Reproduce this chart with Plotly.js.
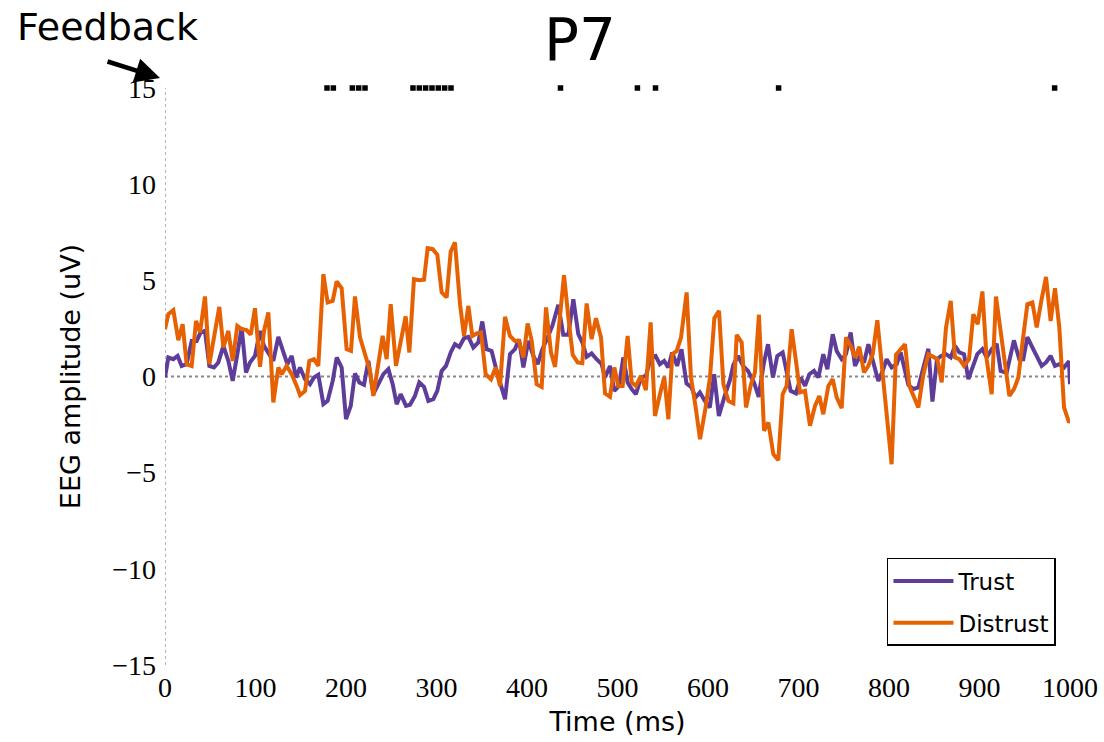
<!DOCTYPE html>
<html>
<head>
<meta charset="utf-8">
<script src="https://cdn.plot.ly/plotly-3.0.1.min.js"></script>
<style>html,body{margin:0;padding:0;background:#fff;}#chart{width:1104px;height:742px;}</style>
</head>
<body>
<div id="chart"></div>
<script>
// ---- Data ----
const trustT = [0,3.7,9.2,14,18.4,23.9,29.5,35,39.4,44.2,49,54.1,58.9,64.5,70,74.8,79.9,84.7,89.5,93.9,99.4,105,109.4,114.2,119.7,125.2,130.8,135.2,140,144.8,149.2,154.7,160.2,164.6,169.4,175,179.7,185.3,189.7,195.2,200,205.2,209.9,214.7,219.9,224.7,230.2,235.7,241.3,246.8,251.6,256,260.4,266.3,270.7,276.2,281,286.2,291,296.5,300.9,305.7,310.5,315.7,320.4,325.2,330.4,335.2,340.7,346.2,350.6,355.4,360.9,366.5,371.3,375.7,381.2,386.7,391.2,396,401.5,407,411.8,417,422.8,428,434.6,440.1,445.7,451.2,456.7,461.1,465.9,471.4,476.9,482.5,486.2,491.7,496.5,501.7,506.4,511.2,515.7,520.4,525.9,531.4,536.9,542,546.8,551.6,556,560.4,565.9,570.7,576.2,581.8,586.2,591,596.5,602,606.8,612,618.8,624.3,628,633.2,638.7,644.2,650.8,656,661.5,666.3,671.8,676.6,682.5,691.3,697.2,702.4,707.2,712,717.1,721.9,727.4,731.9,737.8,742.2,747.7,752.5,757.7,762.4,767.2,772.4,777.2,782.7,788.2,793,797.4,802.9,808.5,812.9,821.4,827,832.4,838,843.5,848,853,857.5,863,868.2,872.9,877.7,882.9,887.7,893.2,897.6,903.2,907.9,913.5,919,923.4,930,938,944,948.4,952.9,958.4,963.2,968.7,973.5,978.6,983.4,988.2,993.4,998.9,1000];
const trustV = [-0.05,0.99,0.9,1.07,0.55,0.64,1.85,1.85,2.29,2.37,0.55,0.47,0.73,1.59,0.81,-0.23,1.16,2.55,0.21,0.73,1.07,2.37,1.59,1.25,0.81,2.06,1.33,0.64,1.07,-0.05,0.47,-0.14,-0.4,-0.05,0.09,-1.44,-1.27,-0.23,0.99,0.47,-2.22,-1.53,0.16,-0.31,-0.43,0.81,-0.92,-0.4,0.12,0.38,-0.4,-1.44,-0.92,-1.53,-1.47,-1.01,-0.31,-0.54,-1.27,-1.18,-0.75,0.29,0.55,1.25,1.68,1.54,1.99,2.06,1.51,1.77,2.86,1.42,1.33,0.29,-0.57,-1.18,1.16,1.42,1.94,0.47,1.85,1.07,0.64,1.42,2.03,2.63,3.73,2.17,2.17,4.02,2.2,1.77,1.02,1.2,0.9,0.64,-0.05,0.55,-0.75,-0.49,0.99,-0.31,-0.66,-0.92,-0.05,0.03,0.99,1.07,0.64,0.81,0.47,1.25,0.55,1.42,-0.36,-0.57,-1.09,-0.83,-1.27,-1.61,0.12,-2.05,-0.96,-0.18,0.6,1.07,0.55,0.29,-0.31,-1.06,0.64,1.68,-0.05,1.07,1.25,-0.75,-0.88,-0.05,-0.49,0.12,0.29,-0.05,1.16,0.38,2.2,1.33,0.9,1.16,2.29,0.55,0.99,0.73,1.68,0.73,-0.23,0.29,0.9,0.47,0.64,1.25,-0.44,-0.65,-0.57,0.47,1.44,-1.3,0.9,1.07,1.16,0.99,1.59,1.25,1.16,-0.14,0.64,1.16,1.42,0.99,1.42,1.7,0.29,0.2,1.88,0.9,0.9,2.05,1.51,1.07,0.55,0.73,1.07,0.55,0.64,0.47,0.8,-0.4];

const distrustT = [0,3.7,9.2,14.7,19.5,23.9,29.5,34.3,38.7,44.2,49,60,64.5,70,74.8,79.9,84.7,90.2,94.7,99.4,105,109.4,114.2,119.7,125.2,128.9,134.4,140,145.5,149.2,154.7,159.5,164.6,169.4,175,179.7,185.3,189.7,195.2,200.7,205.5,209.9,215.5,221,226.5,230.2,235.7,240.5,244.9,249.4,255.2,260.4,265.9,270,275.1,281,286.2,290.2,295.8,300.9,305.7,311.2,315.7,320.4,326,330.4,335.2,339.6,344.4,349.2,354.3,360.2,365.4,370.2,375.7,381.2,386.7,391.2,396,400.7,405.2,410.7,416.2,421,426.5,431,440.9,445.7,450.5,456,461.1,465.9,471.4,476.2,481.8,486.2,491.7,496.5,500.9,505.7,511.2,515.7,520.4,525.9,531.4,536.6,541.4,546.9,551.7,556.2,560.6,565.4,570.2,576.4,581.2,586.4,591.2,596.7,602.2,607,612.2,617,622.5,628,631.7,637.2,642,647.5,651.9,656.3,661.9,666.7,672.2,677.7,682.5,686.9,692.4,697.2,701.7,707.2,712.7,718.2,723,727.4,733,737.8,742.2,747.7,752.5,757.7,762.4,767.2,772.4,777.2,782,787.1,791.9,797.4,802.9,807.7,812.9,817.7,822.5,827.6,832.4,838,843.5,849,853.5,858.2,863,868.2,872.9,877.7,882.9,888.4,893.2,898,903.2,907.9,913.5,918.2,923.4,928.2,933,938.1,942.9,947.7,952.9,958.4,963.2,968,973.5,978.6,983.4,988.2,993.4,998.9,1000];
const distrustV = [2.46,3.24,3.45,1.89,2.72,0.64,0.55,2.89,2.29,4.16,0.64,3.62,1.51,2.37,0.81,2.63,2.46,2.41,2.17,3.55,0.5,2.37,3.33,-1.35,0.47,0.12,0.55,0.12,-0.49,-0.97,-0.75,0.81,0.9,0.55,5.32,3.85,3.93,4.94,4.59,1.42,1.33,4.16,2.03,1.07,0.29,-1.01,0.64,2.11,0.9,3.76,0.55,1.85,3.12,1.25,5.06,5.01,5.03,6.67,6.62,6.33,4.37,4.11,6.5,6.97,3.76,2.11,3.67,2.11,2.24,2.29,0.12,-0.14,0.47,-0.49,3.1,2.11,1.85,1.85,0.99,2.76,1.85,-0.4,-0.54,3.59,1.25,0.5,5.27,3.07,1.13,0.73,0.69,3.8,1.94,3.03,2.03,-0.88,-1.06,0.47,-0.49,-0.49,2.11,-0.31,-0.49,0.03,-0.71,2.81,-2.05,-0.92,-0.02,-2.22,1.16,1.33,2.03,4.37,-0.05,-1.61,-3.26,-1.79,-0.05,3.03,3.41,-0.4,-1.27,-1.4,2.17,1.77,-1.61,-0.4,0.21,3.21,-2.82,-2.39,-4.04,-4.35,-0.92,-0.49,2.46,0.81,-0.83,-0.75,-2.56,-1.53,-1.01,-1.96,-0.49,-0.14,-1.09,-1.65,2.03,1.59,0.99,1.54,0.21,0.55,1.16,2.93,0.64,-1.61,-4.56,1.13,1.42,1.68,-0.49,-1.09,-1.61,0.12,1.16,1.02,0.9,-0.31,2.55,3.93,0.99,0.9,0.55,0.9,3.24,2.72,4.42,0.9,-0.92,4.16,2.37,0.64,-1.01,-0.66,-0.05,1.85,3.76,3.85,2.55,3.85,5.18,2.89,4.59,2.55,-1.61,-2.39,-2.3];

// time points (ms) marked as significant, drawn at the top of the axis
const sigTimes = [179,186,207,214,221,274,281,288,295,302,309,316,437,522,542,678,983];
const sigLevel = 15;

const seriesNames = ["Trust", "Distrust"];
const xTicks = [0,100,200,300,400,500,600,700,800,900,1000];
const yTicks = [-15,-10,-5,0,5,10,15];
const yTickText = ["\u221215","\u221210","\u22125","0","5","10","15"];
const chartTitle = "P7";
const xTitle = "Time (ms)";
const yTitle = "EEG amplitude (uV)";
const markerLabel = "Feedback";

// ---- Styles ----
const PURPLE = "#5e3c99", ORANGE = "#e66101";
const SANS = "DejaVu Sans, sans-serif";
const SERIF = "Liberation Serif, DejaVu Serif, serif";

const traces = [
  {x: trustT, y: trustV, name: seriesNames[0], type: "scatter", mode: "lines",
   line: {color: PURPLE, width: 4}, legendgroup: "a"},
  {x: distrustT, y: distrustV, name: seriesNames[1], type: "scatter", mode: "lines",
   line: {color: ORANGE, width: 4}, legendgroup: "b"},
  {x: sigTimes, y: sigTimes.map(() => sigLevel), type: "scatter", mode: "markers",
   marker: {symbol: "square", size: 5.5, color: "#000"}, showlegend: false,
   cliponaxis: false, hoverinfo: "x"}
];

const layout = {
  width: 1104, height: 742,
  margin: {l: 165, r: 34, t: 88, b: 77},
  paper_bgcolor: "#fff", plot_bgcolor: "#fff",
  showlegend: true,
  title: {text: chartTitle, font: {family: SANS, size: 58, color: "#000"},
          xref: "paper", x: 0.4586, xanchor: "center",
          yref: "container", y: 0.946, yanchor: "middle"},
  xaxis: {range: [0, 1000], tickvals: xTicks, ticktext: xTicks.map(String),
          showgrid: false, zeroline: false, showline: false, ticks: "",
          tickfont: {family: SERIF, size: 28, color: "#000"}, ticklabelstandoff: 3,
          title: {text: xTitle, font: {family: SANS, size: 27, color: "#000"}, standoff: 10}},
  yaxis: {range: [-15, 15], tickvals: yTicks, ticktext: yTickText,
          showgrid: false, zeroline: false, showline: false, ticks: "",
          tickfont: {family: SERIF, size: 28, color: "#000"}, ticklabelstandoff: 8,
          title: {text: yTitle, font: {family: SANS, size: 27, color: "#000"}, standoff: 23}},
  legend: {x: 0.9845, y: 0.033, xanchor: "right", yanchor: "bottom",
           bgcolor: "#fff", bordercolor: "#000", borderwidth: 1.5,
           font: {family: SANS, size: 23, color: "#000"},
           itemwidth: 60,
           tracegroupgap: 9, traceorder: "grouped"},
  shapes: [
    {type: "line", xref: "x", yref: "y", x0: 0, x1: 0, y0: -15, y1: 15, layer: "below",
     line: {color: "#999", width: 1.5, dash: "dot"}},
    {type: "line", xref: "x", yref: "y", x0: 0, x1: 1000, y0: 0, y1: 0, layer: "below",
     line: {color: "#888", width: 2, dash: "dot"}}
  ],
  annotations: [
    {text: markerLabel, xref: "paper", yref: "paper", x: -0.063, y: 1.1057,
     xanchor: "center", yanchor: "middle", showarrow: false,
     font: {family: SANS, size: 38, color: "#000"}},
    {text: "", xref: "paper", yref: "paper", x: -0.0055, y: 1.0173,
     showarrow: true, arrowhead: 2, arrowsize: 1.1, arrowwidth: 4.5, arrowcolor: "#000",
     axref: "pixel", ayref: "pixel", ax: -54, ay: -17}
  ]
};

Plotly.newPlot("chart", traces, layout, {displayModeBar: false, staticPlot: true});
</script>
</body>
</html>
